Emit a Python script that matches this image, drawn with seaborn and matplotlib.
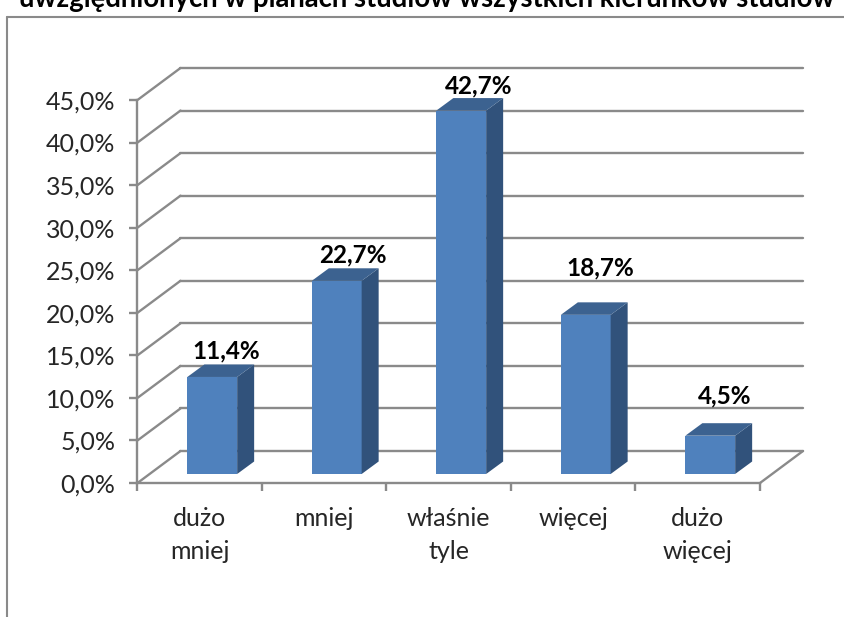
import matplotlib
matplotlib.use('Agg')
import matplotlib.pyplot as plt
from matplotlib.patches import Polygon
from matplotlib.transforms import IdentityTransform, ScaledTranslation
import seaborn as sns

# Dane
categories = ['dużo\nmniej', 'mniej', 'właśnie\ntyle', 'więcej', 'dużo\nwięcej']
values = [11.4, 22.7, 42.7, 18.7, 4.5]
value_labels = ['11,4%', '22,7%', '42,7%', '18,7%', '4,5%']
y_ticks = [0, 5, 10, 15, 20, 25, 30, 35, 40, 45]
y_tick_labels = ['0,0%', '5,0%', '10,0%', '15,0%', '20,0%', '25,0%', '30,0%', '35,0%', '40,0%', '45,0%']
title = 'uwzględnionych w planach studiów wszystkich kierunków studiów'

GRID = '#8a8a8a'
FRONT = '#4f81bd'
SIDE = '#31527b'
TOP = '#3c6290'

# przesuniecia 3D w pikselach
WALL_DX, WALL_DY = 43, 32
BAR_DX, BAR_DY = 12.5, 9
DEPTH_DX, DEPTH_DY = 17, 12.5
label_lift = [14, 13, 12, 34, 27]
label_shift = [14, 16.5, 17, 14.5, 14.5]

sns.set_style('white')
plt.rcParams['font.family'] = ['Lato', 'DejaVu Sans']

W, H = 845, 617
fig = plt.figure(figsize=(W / 100, H / 100), dpi=100)
ax = fig.add_axes([137.5 / W, (H - 483) / H, 622.5 / W, 383 / H])

sns.barplot(x=list(range(len(values))), y=values, color=FRONT, saturation=1, width=0.4, linewidth=0, ax=ax, zorder=3)
ax.set_xlim(-0.5, 4.5)
ax.set_ylim(0, 45)

px = IdentityTransform()


def pixel(x, y):
    return ax.transData.transform((x, y))


# tylna sciana i lewa sciana
for v in y_ticks:
    x0, y0 = pixel(-0.5, v)
    x1, _ = pixel(4.5, v)
    ax.plot([x0, x0 + WALL_DX], [y0, y0 + WALL_DY], color=GRID, lw=1.7, transform=px, clip_on=False, zorder=1)
    ax.plot([x0 + WALL_DX, x1 + WALL_DX], [y0 + WALL_DY, y0 + WALL_DY], color=GRID, lw=1.7, transform=px, clip_on=False, zorder=1)

# podloga z prawej
x1, y1 = pixel(4.5, 0)
ax.plot([x1, x1 + WALL_DX], [y1, y1 + WALL_DY], color=GRID, lw=1.7, transform=px, clip_on=False, zorder=1)

# slupki: przod z seaborna, bok i gora dorysowane
shift = ScaledTranslation(BAR_DX / 100, BAR_DY / 100, fig.dpi_scale_trans)
for i, bar in enumerate(ax.patches):
    bar.set_transform(ax.transData + shift)
    bar.set_clip_on(False)
    left, right = bar.get_x(), bar.get_x() + bar.get_width()
    xl, yt = pixel(left, bar.get_height())
    xr, yb = pixel(right, 0)
    xl, xr = xl + BAR_DX, xr + BAR_DX
    yt, yb = yt + BAR_DY, yb + BAR_DY
    side = Polygon([(xr, yb), (xr + DEPTH_DX, yb + DEPTH_DY), (xr + DEPTH_DX, yt + DEPTH_DY), (xr, yt)],
                   closed=True, facecolor=SIDE, edgecolor='none', transform=px, clip_on=False, zorder=3)
    top = Polygon([(xl, yt), (xr, yt), (xr + DEPTH_DX, yt + DEPTH_DY), (xl + DEPTH_DX, yt + DEPTH_DY)],
                  closed=True, facecolor=TOP, edgecolor='none', transform=px, clip_on=False, zorder=3)
    ax.add_patch(side)
    ax.add_patch(top)
    ax.text((xl + xr) / 2 + label_shift[i], yt + DEPTH_DY + label_lift[i], value_labels[i], transform=px,
            ha='center', va='center', fontsize=17.5, fontweight='bold', color='black', zorder=5)

# osie
sns.despine(ax=ax, top=True, right=True)
for s in ['left', 'bottom']:
    ax.spines[s].set_color(GRID)
    ax.spines[s].set_linewidth(1.7)
    ax.spines[s].set_zorder(2)

ax.set_yticks(y_ticks)
ax.set_yticklabels(y_tick_labels)
ax.set_xticks(range(len(categories)))
ax.set_xticklabels(categories, linespacing=1.55)
ax.set_xticks([i - 0.5 for i in range(len(categories) + 1)], minor=True)
ax.tick_params(axis='y', length=5.5, width=1.7, color=GRID, labelsize=18, pad=10.5, left=True)
ax.tick_params(axis='x', which='major', length=0, labelsize=18, pad=17)
ax.tick_params(axis='x', which='minor', length=5.5, width=1.7, color=GRID, bottom=True)
ax.set_xlabel('')
ax.set_ylabel('')
ax.patch.set_alpha(0)

# ramka wykresu (ucieta przy krawedziach) i tytul
fig.add_artist(plt.Line2D([7.5 / W, 7.5 / W], [0, 1 - 17 / H], color=GRID, lw=1.5))
fig.add_artist(plt.Line2D([7.5 / W, 1], [1 - 17 / H, 1 - 17 / H], color=GRID, lw=1.5))
fig.text(427 / W, 1 + 1 / H, title, ha='center', va='center', fontsize=19.8, fontweight='bold', color='black')

fig.savefig('out.png', dpi=100)
